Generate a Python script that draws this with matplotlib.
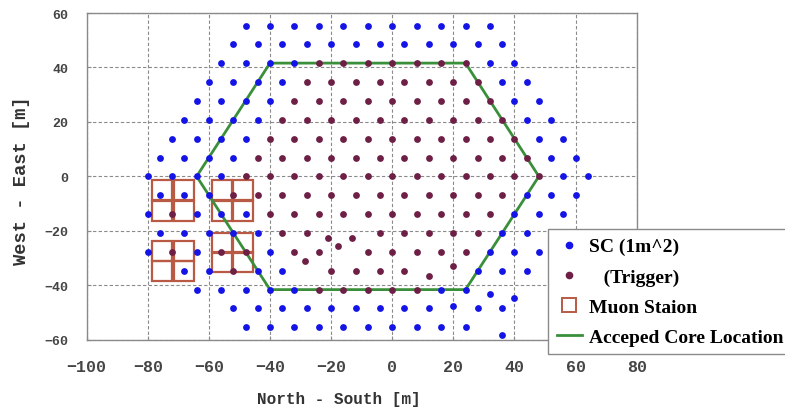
import matplotlib
matplotlib.use("Agg")
import matplotlib.pyplot as plt
from matplotlib.lines import Line2D

# ------------------------------------------------------------------
# Detector layout (metres)
# ------------------------------------------------------------------
row_y = [55.4, 48.5, 41.6, 34.6, 27.7, 20.8, 13.9, 6.9, 0.0,
         -6.9, -13.9, -20.8, -27.7, -34.6, -41.6, -48.5, -55.4]

# scintillators (blue) per row, same order as row_y
sc_rows = [
    [-48, -40, -32, -24, -16, -8, 0, 8, 16, 24, 32],
    [-52, -44, -36, -28, -20, -12, -4, 4, 12, 20, 28, 36],
    [-56, -48, -40, -32, 32, 40],
    [-60, -52, -44, -36, 36, 44],
    [-64, -56, -48, -40, 40, 48],
    [-68, -60, -52, -44, 44, 52],
    [-72, -64, -56, -48, 48, 56],
    [-76, -68, -60, -52, 52, 60],
    [-80, -72, -64, -56, 56, 64],
    [-76, -68, -60, 44, 52, 60],
    [-80, -64, -56, -48, 40, 48, 56],
    [-76, -68, -60, -52, -44, 36, 44],
    [-80, -64, -40, 32, 40, 48],
    [-68, -60, -44, -36, 28, 36, 44],
    [-64, -56, -48, -40, -32, 16, 24],
    [-52, -44, -36, -28, -20, -12, -4, 4, 12, 28, 36],
    [-48, -40, -32, -24, -16, -8, 0, 8, 16, 24],
]
# off-grid scintillators
sc_extra_x = [32, 40, 20, 36]
sc_extra_y = [-43.2, -44.5, -47.5, -58.3]

# trigger detectors (maroon) per row
trig_rows = [
    [],
    [],
    [-24, -16, -8, 0, 8, 16, 24],
    [-28, -20, -12, -4, 4, 12, 20, 28],
    [-32, -24, -16, -8, 0, 8, 16, 24, 32],
    [-36, -28, -20, -12, -4, 4, 12, 20, 28, 36],
    [-40, -32, -24, -16, -8, 0, 8, 16, 24, 32, 40],
    [-44, -36, -28, -20, -12, -4, 4, 12, 20, 28, 36, 44],
    [-48, -40, -32, -24, -16, -8, 0, 8, 16, 24, 32, 40, 48],
    [-52, -44, -36, -28, -20, -12, -4, 4, 12, 20, 28, 36],
    [-72, -40, -32, -24, -16, -8, 0, 8, 16, 24, 32],
    [-36, -28, -4, 4, 12, 20, 28],
    [-72, -56, -48, -32, -24, -8, 0, 8, 16, 24],
    [-52, -20, -12, -4, 4],
    [-24, -16, -8, 0, 8],
    [],
    [],
]
trig_extra_x = [-21, -13, -17.7, -28.6, 12, 20]
trig_extra_y = [-22.5, -22.5, -25.5, -31.2, -36.5, -32.8]

# muon stations: 2x2 blocks of square cells (cell centres)
muon_x = [-75.2, -68.1, -75.2, -68.1,
          -55.6, -48.8, -55.6, -48.8,
          -75.2, -68.1, -75.2, -68.1,
          -55.6, -48.8, -55.6, -48.8]
muon_y = [-5.0, -5.0, -12.6, -12.6,
          -5.0, -5.0, -12.6, -12.6,
          -27.3, -27.3, -34.7, -34.7,
          -24.3, -24.3, -31.6, -31.6]

# accepted core location (hexagon)
core_x = [-64, -40, 24, 48, 24, -40, -64]
core_y = [0, 41.6, 41.6, 0, -41.6, -41.6, 0]

xticks = [-100, -80, -60, -40, -20, 0, 20, 40, 60, 80]
yticks = [-60, -40, -20, 0, 20, 40, 60]

# ------------------------------------------------------------------
sc_x = [x for xs in sc_rows for x in xs]
sc_y = [y for xs, y in zip(sc_rows, row_y) for _ in xs]
sc_x += sc_extra_x
sc_y += sc_extra_y
trig_x = [x for xs in trig_rows for x in xs]
trig_y = [y for xs, y in zip(trig_rows, row_y) for _ in xs]
trig_x += trig_extra_x
trig_y += trig_extra_y

BLUE = "#1414e6"
MAROON = "#6e1f45"
MUON = "#b85a44"
GREEN = "#3a8f3a"
GRID = "#8a8a8a"

fig = plt.figure(figsize=(7.85, 4.10), dpi=100)
ax = fig.add_axes([0.1104, 0.169, 0.7006, 0.7968])

ax.plot(muon_x, muon_y, linestyle="none", marker="s", markersize=14.5,
        markerfacecolor="none", markeredgecolor=MUON, markeredgewidth=1.6,
        zorder=2)
ax.plot(core_x, core_y, color=GREEN, linewidth=2.0, zorder=3)
ax.scatter(sc_x, sc_y, s=24, color=BLUE, linewidths=0, zorder=4)
ax.scatter(trig_x, trig_y, s=24, color=MAROON, linewidths=0, zorder=4)

ax.set_xlim(-100, 80)
ax.set_ylim(-60, 60)
ax.set_xticks(xticks)
ax.set_yticks(yticks)

ax.grid(True, color=GRID, linestyle=(0, (3, 2)), linewidth=0.8, zorder=0)
ax.set_axisbelow(True)
for sp in ax.spines.values():
    sp.set_color(GRID)
    sp.set_linewidth(1.0)

mono = ["Liberation Mono", "DejaVu Sans Mono"]
ax.tick_params(axis="both", direction="in", length=3, color=GRID)
ax.tick_params(axis="x", pad=14)
ax.tick_params(axis="y", pad=13)
for lab in ax.get_xticklabels():
    lab.set_family(mono)
    lab.set_fontweight("bold")
    lab.set_fontsize(12)
    lab.set_color("#444444")
for lab in ax.get_yticklabels():
    lab.set_family(mono)
    lab.set_fontweight("bold")
    lab.set_fontsize(9.5)
    lab.set_color("#444444")

fig.text(339 / 785, 1 - 400 / 410, "North - South [m]", family=mono,
         fontweight="bold", fontsize=11.5, color="#333333",
         ha="center", va="center")
fig.text(22 / 785, 1 - 181 / 410, "West - East [m]", family=mono,
         fontweight="bold", fontsize=13.5, color="#333333",
         ha="center", va="center", rotation=90)

# ------------------------------------------------------------------
# Legend (runs off the right edge, as in the original)
# ------------------------------------------------------------------
handles = [
    Line2D([], [], linestyle="none", marker="o", markersize=4.5,
           markerfacecolor=BLUE, markeredgecolor=BLUE),
    Line2D([], [], linestyle="none", marker="o", markersize=4.5,
           markerfacecolor=MAROON, markeredgecolor=MAROON),
    Line2D([], [], linestyle="none", marker="s", markersize=10,
           markerfacecolor="none", markeredgecolor=MUON,
           markeredgewidth=1.4),
    Line2D([], [], color=GREEN, linewidth=2.0),
]
labels = ["SC (1m^2)", "   (Trigger)", "Muon Staion", "Acceped Core Location"]
leg = fig.legend(handles, labels, loc="upper left",
                 bbox_to_anchor=(548 / 785, 1 - 230 / 410),
                 bbox_transform=fig.transFigure, borderaxespad=0,
                 frameon=True, fancybox=False, framealpha=1,
                 edgecolor=GRID, handlelength=1.3, handletextpad=0.35,
                 labelspacing=0.64, borderpad=0.45,
                 prop={"family": ["Liberation Serif"], "weight": "bold",
                       "size": 14})
leg.get_frame().set_linewidth(1.0)

fig.savefig("out.png", dpi=100)
